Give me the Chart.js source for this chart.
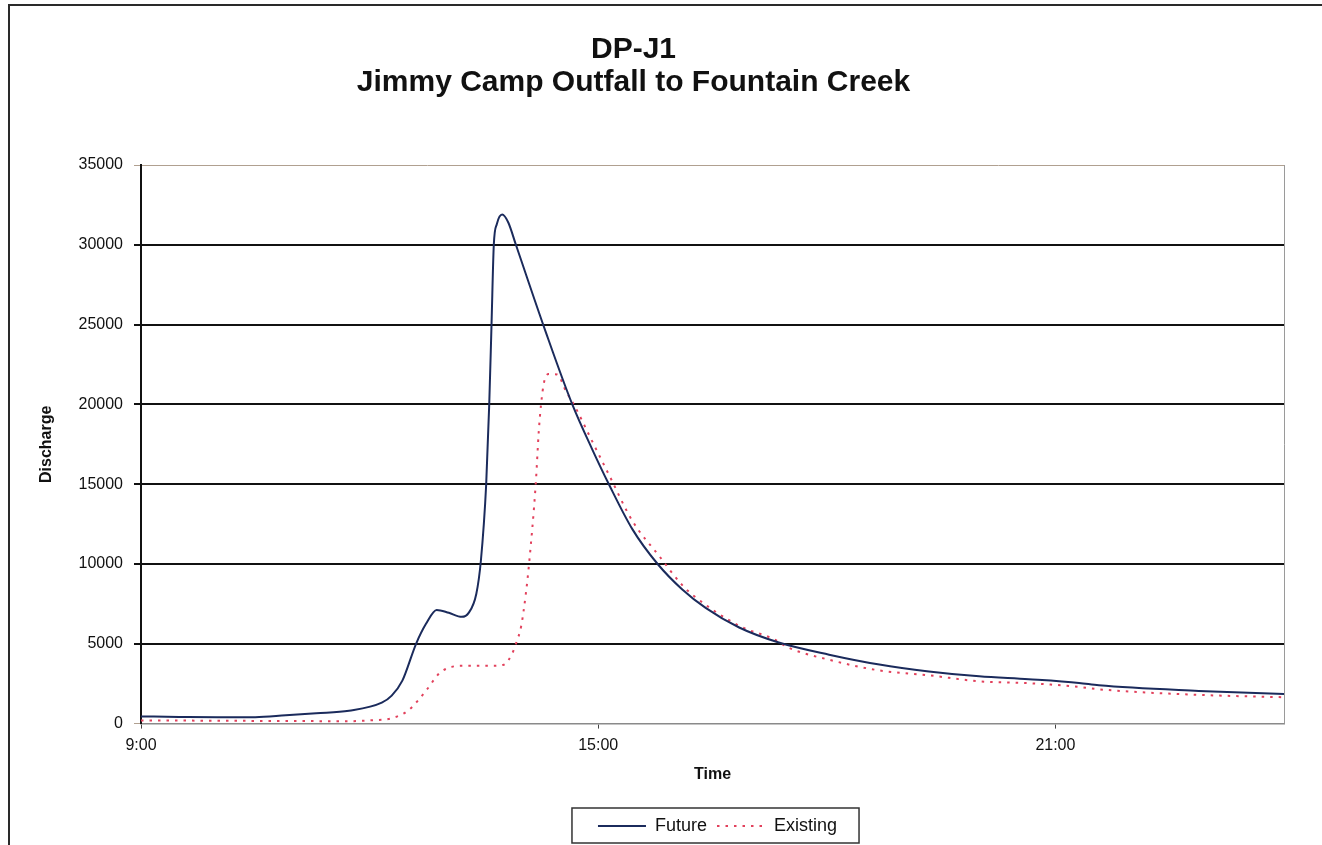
<!DOCTYPE html>
<html>
<head>
<meta charset="utf-8">
<script src="https://cdn.jsdelivr.net/npm/chart.js@4"></script>
<style>
  html, body { margin: 0; padding: 0; background: #ffffff; }
  #wrap { position: relative; width: 1322px; height: 845px; overflow: hidden; }
  #c { position: absolute; left: 0; top: 0; }
  #frame { position: absolute; left: 8px; top: 4px; width: 1330px; height: 860px;
           border-left: 2px solid #2a2a2a; border-top: 2px solid #2a2a2a; pointer-events: none; }
</style>
</head>
<body>
<div id="wrap">
  <canvas id="c" width="1322" height="845"></canvas>
  <div id="frame"></div>
</div>
<script>
// ---- Data (hours of day, discharge) ----
const titleLines = ["DP-J1", "Jimmy Camp Outfall to Fountain Creek"];
const xTickHours = [9, 15, 21];
const yTicks = [0, 5000, 10000, 15000, 20000, 25000, 30000, 35000];

const futureTimes = [9.0, 9.5, 10.0, 10.5, 10.9, 11.3, 11.73, 12.16, 12.29, 12.43, 12.61, 12.74, 12.88, 13.04, 13.21, 13.30, 13.40, 13.46, 13.53, 13.57, 13.60, 13.63, 13.67, 13.74, 13.82, 13.92, 14.31, 14.66, 14.92, 15.14, 15.45, 15.78, 16.10, 16.41, 16.85, 17.37, 18.03, 18.69, 19.34, 20.0, 20.65, 21.31, 21.57, 22.88, 24.0];
const futureFlow  = [450, 420, 400, 400, 520, 650, 810, 1310, 1750, 2690, 5000, 6250, 7125, 6940, 6690, 6940, 8125, 10190, 15000, 20000, 25000, 30000, 31300, 31900, 31400, 30000, 24560, 20000, 17200, 15000, 12170, 10000, 8420, 7250, 6020, 5080, 4320, 3700, 3270, 2960, 2780, 2550, 2400, 2050, 1850];

const existingTimes = [9.0, 10.0, 11.0, 11.73, 12.0, 12.29, 12.51, 12.74, 12.91, 13.04, 13.21, 13.6, 13.76, 13.87, 13.92, 13.99, 14.05, 14.09, 14.18, 14.22, 14.25, 14.29, 14.35, 14.46, 14.58, 14.68, 14.92, 15.14, 15.45, 15.8, 16.10, 16.23, 16.85, 17.3, 17.5, 18.03, 18.69, 19.34, 20.0, 20.65, 21.31, 21.57, 22.88, 24.0];
const existingFlow  = [200, 180, 160, 150, 200, 340, 840, 2060, 3125, 3500, 3620, 3620, 3690, 4375, 5000, 6125, 8125, 9880, 15000, 18300, 20000, 21400, 21900, 21875, 20800, 20000, 17700, 15600, 12690, 10500, 8690, 8100, 6125, 5300, 4750, 4000, 3330, 3025, 2650, 2530, 2300, 2150, 1800, 1650];

const toPoints = (xs, ys) => xs.map((x, i) => ({ x: x, y: ys[i] }));

const frameBits = {
  id: 'frameBits',
  afterLayout(chart) {
    const lg = chart.legend;
    if (lg) { lg.left += 57; lg.right += 57; }
    const tb = chart.titleBlock;
    if (tb) { tb.left -= 27; tb.right -= 27; }
  },
  afterDraw(chart) {
    const ctx = chart.ctx;
    const a = chart.chartArea;
    ctx.save();
    // right edge of plot area
    ctx.strokeStyle = '#9a9a9a';
    ctx.lineWidth = 1;
    ctx.beginPath();
    ctx.moveTo(a.right + 0.5, a.top);
    ctx.lineTo(a.right + 0.5, a.bottom);
    ctx.stroke();
    // legend box
    const lg = chart.legend;
    if (lg && lg.legendHitBoxes && lg.legendHitBoxes.length) {
      let l = Infinity, r = -Infinity, t = Infinity, b = -Infinity;
      lg.legendHitBoxes.forEach(h => {
        l = Math.min(l, h.left); r = Math.max(r, h.left + h.width);
        t = Math.min(t, h.top); b = Math.max(b, h.top + h.height);
      });
      ctx.strokeStyle = '#333';
      ctx.lineWidth = 1.5;
      ctx.strokeRect(l - 26, t - 9, (r - l) + 48, (b - t) + 17);
    }
    ctx.restore();
  }
};

new Chart(document.getElementById('c'), {
  type: 'line',
  data: {
    datasets: [
      {
        label: 'Future',
        data: toPoints(futureTimes, futureFlow),
        borderColor: '#1b2b5c',
        backgroundColor: 'rgba(0,0,0,0)',
        borderWidth: 2,
        pointRadius: 0,
        fill: false,
        cubicInterpolationMode: 'monotone'
      },
      {
        label: 'Existing',
        data: toPoints(existingTimes, existingFlow),
        borderColor: '#e2415c',
        backgroundColor: 'rgba(0,0,0,0)',
        borderWidth: 2,
        borderDash: [2.5, 6],
        pointRadius: 0,
        fill: false,
        cubicInterpolationMode: 'monotone'
      }
    ]
  },
  options: {
    responsive: false,
    animation: false,
    layout: { padding: { left: 37, right: 38, top: 33, bottom: 0 } },
    plugins: {
      title: {
        display: true,
        text: titleLines,
        color: '#111',
        font: { family: 'Liberation Sans, Arial, sans-serif', size: 30, weight: 'bold', lineHeight: 1.1 },
        padding: { top: 0, bottom: 66 }
      },
      legend: {
        display: true,
        position: 'bottom',
        labels: {
          color: '#111',
          font: { family: 'Liberation Sans, Arial, sans-serif', size: 18 },
          usePointStyle: false,
          boxWidth: 48,
          boxHeight: 0,
          padding: 10
        }
      },
      tooltip: { enabled: false }
    },
    scales: {
      x: {
        type: 'linear',
        min: 9,
        max: 24,
        afterBuildTicks(scale) { scale.ticks = xTickHours.map(v => ({ value: v })); },
        ticks: {
          color: '#111',
          font: { family: 'Liberation Sans, Arial, sans-serif', size: 16 },
          callback: v => v + ':00',
          maxRotation: 0,
          padding: 7
        },
        grid: { drawOnChartArea: false, drawTicks: true, tickLength: 5, color: '#444' },
        border: { display: true, color: '#8a8a8a', width: 1.5 },
        title: {
          display: true,
          text: 'Time',
          color: '#111',
          font: { family: 'Liberation Sans, Arial, sans-serif', size: 16, weight: 'bold', lineHeight: 1.2 },
          padding: { top: 3, bottom: 23 }
        }
      },
      y: {
        min: 0,
        max: 35000,
        afterBuildTicks(scale) { scale.ticks = yTicks.map(v => ({ value: v })); },
        afterFit(scale) { scale.width = 104; },
        ticks: {
          color: '#111',
          font: { family: 'Liberation Sans, Arial, sans-serif', size: 16 },
          callback: v => String(v),
          padding: 11
        },
        grid: {
          drawOnChartArea: true,
          drawTicks: true,
          tickLength: 7,
          color: ctx => (ctx.tick && (ctx.tick.value === 35000 || ctx.tick.value === 0)) ? '#b0a090' : '#111',
          lineWidth: ctx => (ctx.tick && (ctx.tick.value === 35000 || ctx.tick.value === 0)) ? 1 : 2
        },
        border: { display: true, color: '#111', width: 2 },
        title: {
          display: true,
          text: 'Discharge',
          color: '#111',
          font: { family: 'Liberation Sans, Arial, sans-serif', size: 16, weight: 'bold', lineHeight: 1.2 },
          padding: { top: 0, bottom: 0 }
        }
      }
    }
  },
  plugins: [frameBits]
});
</script>
</body>
</html>
